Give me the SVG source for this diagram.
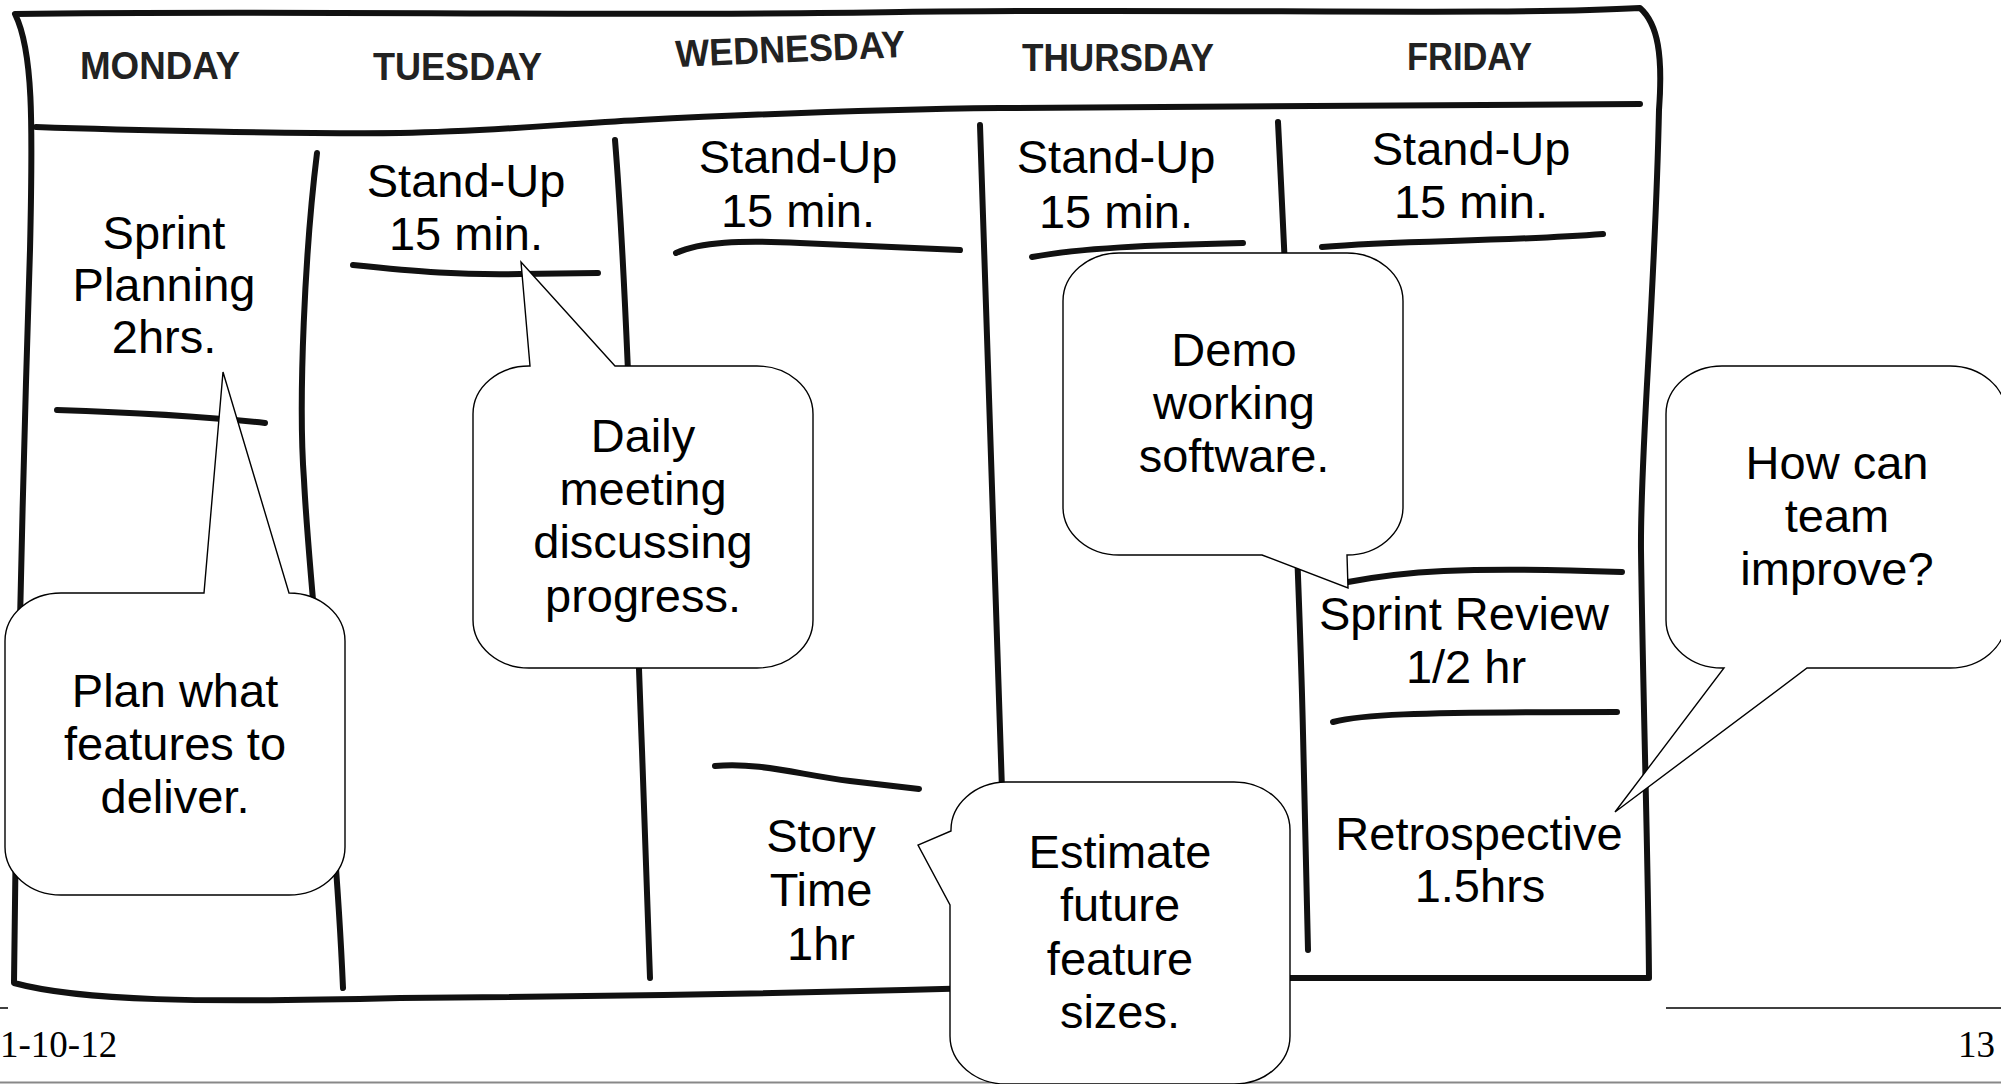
<svg xmlns="http://www.w3.org/2000/svg" width="2001" height="1084" viewBox="0 0 2001 1084">
<style>
.ink{fill:none;stroke:#111;stroke-width:6;stroke-linecap:round;stroke-linejoin:round}
.hdr{font-family:"Liberation Sans",Arial,sans-serif;font-weight:bold;font-size:38px;fill:#222}
.t{font-family:"Liberation Sans",Arial,sans-serif;font-size:47px;fill:#000;text-anchor:middle}
.bub{fill:#fff;stroke:#000;stroke-width:1.4;stroke-linejoin:miter}
.foot{font-family:"Liberation Serif","Times New Roman",serif;font-size:37px;fill:#000}
</style>
<rect width="2001" height="1084" fill="#fff"/>

<g id="footer">
<line x1="0" y1="1008" x2="8" y2="1008" stroke="#000" stroke-width="1.5"/>
<line x1="1666" y1="1008" x2="2001" y2="1008" stroke="#000" stroke-width="1.5"/>
<line x1="0" y1="1082.5" x2="2001" y2="1082.5" stroke="#888" stroke-width="2"/>
<text class="foot" x="0" y="1057">1-10-12</text>
<text class="foot" x="1995" y="1057" text-anchor="end">13</text>
</g>

<g id="calendar">
<path class="ink" d="M15,14 C300,10 600,17 900,12 C1200,8 1500,16 1640,8 C1658,24 1663,55 1659,110 C1655,300 1640,450 1641,550 C1643,700 1648,850 1649,978 L1290,978 C1000,989 700,996 400,998 C200,1003 80,1001 14,983 C16,800 22,500 30,250 C33,120 33,50 15,14 Z"/>
<path class="ink" d="M36,127 C120,130 300,134 400,133 C500,131 560,124 640,120 C800,112 900,109 1000,108 L1640,104"/>
<path class="ink" d="M317,153 C305,250 298,400 304,480 C310,600 335,800 343,988"/>
<path class="ink" d="M615,140 C628,300 636,600 642,750 L650,978"/>
<path class="ink" d="M980,125 C984,300 992,500 1002,790"/>
<path class="ink" d="M1278,122 C1287,300 1300,600 1303,733 L1308,950"/>
<path class="ink" d="M57,410 C120,412 200,416 265,423"/>
<path class="ink" d="M353,265 C420,272 460,275 520,274 L598,273"/>
<path class="ink" d="M676,253 C700,242 740,240 800,243 L960,250"/>
<path class="ink" d="M715,766 C760,762 800,775 850,781 L919,789"/>
<path class="ink" d="M1032,257 C1080,248 1150,245 1243,243"/>
<path class="ink" d="M1322,247 C1400,240 1500,242 1603,234"/>
<path class="ink" d="M1348,582 C1400,572 1460,566 1622,572"/>
<path class="ink" d="M1333,722 C1360,715 1400,712 1617,712"/>
</g>

<g id="day-headers">
<text id="h-mon" class="hdr" x="80" y="79" textLength="160" lengthAdjust="spacingAndGlyphs">MONDAY</text>
<text id="h-tue" class="hdr" x="373" y="80" textLength="169" lengthAdjust="spacingAndGlyphs">TUESDAY</text>
<text id="h-wed" class="hdr" x="676" y="67" textLength="230" lengthAdjust="spacingAndGlyphs" transform="rotate(-2.5 676 67)">WEDNESDAY</text>
<text id="h-thu" class="hdr" x="1022" y="71" textLength="192" lengthAdjust="spacingAndGlyphs">THURSDAY</text>
<text id="h-fri" class="hdr" x="1407" y="70" textLength="125" lengthAdjust="spacingAndGlyphs">FRIDAY</text>
</g>

<g id="cell-mon-planning"><text class="t" x="164" y="249">Sprint</text><text class="t" x="164" y="301">Planning</text><text class="t" x="164" y="353">2hrs.</text></g>
<g id="cell-tue-standup"><text class="t" x="466" y="197">Stand-Up</text><text class="t" x="466" y="250">15 min.</text></g>
<g id="cell-wed-standup"><text class="t" x="798" y="173">Stand-Up</text><text class="t" x="798" y="227">15 min.</text></g>
<g id="cell-wed-story"><text class="t" x="821" y="852">Story</text><text class="t" x="821" y="906">Time</text><text class="t" x="821" y="960">1hr</text></g>
<g id="cell-thu-standup"><text class="t" x="1116" y="173">Stand-Up</text><text class="t" x="1116" y="228">15 min.</text></g>
<g id="cell-fri-standup"><text class="t" x="1471" y="165">Stand-Up</text><text class="t" x="1471" y="218">15 min.</text></g>
<g id="cell-fri-review"><text class="t" x="1464" y="630">Sprint Review</text><text class="t" x="1466" y="683">1/2 hr</text></g>
<g id="cell-fri-retro"><text class="t" x="1479" y="850">Retrospective</text><text class="t" x="1480" y="902">1.5hrs</text></g>

<g id="connectors"></g>

<g id="callout-plan">
<path class="bub" d="M61,593 L204,593 L223,372 L289,593 A56 48 0 0 1 345,641 L345,847 A56 48 0 0 1 289,895 L61,895 A56 48 0 0 1 5,847 L5,641 A56 48 0 0 1 61,593 Z"/>
<text class="t" x="175" y="707">Plan what</text><text class="t" x="175" y="760">features to</text><text class="t" x="175" y="813">deliver.</text>
</g>
<g id="callout-daily">
<path class="bub" d="M530,366 L521,262 L615,366 L757,366 A56 48 0 0 1 813,414 L813,620 A56 48 0 0 1 757,668 L529,668 A56 48 0 0 1 473,620 L473,414 A56 48 0 0 1 530,366 Z"/>
<text class="t" x="643" y="452">Daily</text><text class="t" x="643" y="505">meeting</text><text class="t" x="643" y="558">discussing</text><text class="t" x="643" y="612">progress.</text>
</g>
<g id="callout-demo">
<path class="bub" d="M1119,253 L1347,253 A56 48 0 0 1 1403,301 L1403,507 A56 48 0 0 1 1347,555 L1348,588 L1262,555 L1119,555 A56 48 0 0 1 1063,507 L1063,301 A56 48 0 0 1 1119,253 Z"/>
<text class="t" x="1234" y="366">Demo</text><text class="t" x="1234" y="419">working</text><text class="t" x="1234" y="472">software.</text>
</g>
<g id="callout-improve">
<path class="bub" d="M1722,366 L1950,366 A56 48 0 0 1 2006,414 L2006,620 A56 48 0 0 1 1950,668 L1807,668 L1615,812 L1724,668 L1722,668 A56 48 0 0 1 1666,620 L1666,414 A56 48 0 0 1 1722,366 Z"/>
<text class="t" x="1837" y="479">How can</text><text class="t" x="1837" y="532">team</text><text class="t" x="1837" y="585">improve?</text>
</g>
<g id="callout-estimate">
<path class="bub" d="M1006,782 L1234,782 A56 48 0 0 1 1290,830 L1290,1036 A56 48 0 0 1 1234,1084 L1006,1084 A56 48 0 0 1 950,1036 L950,905 L918,845 L951,831 A56 48 0 0 1 1006,782 Z"/>
<text class="t" x="1120" y="868">Estimate</text><text class="t" x="1120" y="921">future</text><text class="t" x="1120" y="975">feature</text><text class="t" x="1120" y="1028">sizes.</text>
</g>
</svg>
